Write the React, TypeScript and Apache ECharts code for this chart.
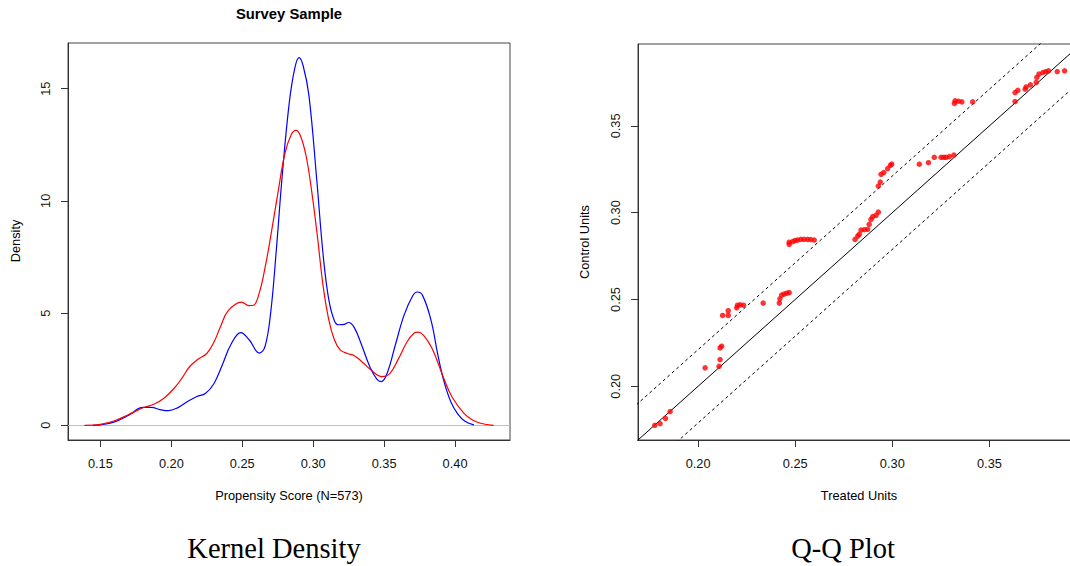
import { useEffect, useRef } from "react";
import * as echarts from "echarts";

// Kernel density curves: [propensity score, density]
const blueDensity: [number, number][] = [
  [0.1446, 0.0], [0.15, 0.02], [0.16, 0.15], [0.17, 0.45], [0.18, 0.8], [0.186, 0.8],
  [0.192, 0.7], [0.198, 0.65], [0.205, 0.8], [0.212, 1.08], [0.218, 1.28], [0.224, 1.42],
  [0.23, 1.85], [0.236, 2.7], [0.242, 3.6], [0.249, 4.13], [0.255, 3.8], [0.262, 3.22],
  [0.266, 3.5], [0.27, 5.0], [0.274, 7.8], [0.278, 11.0], [0.283, 14.3], [0.287, 15.9],
  [0.29, 16.38], [0.293, 16.0], [0.297, 14.7], [0.3025, 10.95], [0.307, 7.6], [0.311, 5.6],
  [0.315, 4.65], [0.318, 4.48], [0.322, 4.5], [0.325, 4.58], [0.329, 4.35], [0.334, 3.6],
  [0.34, 2.6], [0.345, 2.05], [0.348, 1.95], [0.352, 2.3], [0.358, 3.6], [0.364, 4.9],
  [0.37, 5.75], [0.3733, 5.94], [0.377, 5.8], [0.383, 4.7], [0.388, 3.1], [0.392, 2.0],
  [0.397, 1.05], [0.402, 0.5], [0.407, 0.18], [0.4133, 0.02],
];

const redDensity: [number, number][] = [
  [0.1387, 0.0], [0.15, 0.04], [0.16, 0.2], [0.17, 0.48], [0.18, 0.78], [0.188, 0.95],
  [0.195, 1.22], [0.202, 1.65], [0.208, 2.15], [0.213, 2.62], [0.219, 2.95], [0.225, 3.2],
  [0.23, 3.7], [0.235, 4.45], [0.24, 5.1], [0.2495, 5.49], [0.2545, 5.33], [0.258, 5.35],
  [0.262, 5.9], [0.266, 7.0], [0.27, 8.4], [0.275, 10.3], [0.28, 12.1], [0.2845, 12.95],
  [0.2879, 13.14], [0.291, 12.9], [0.295, 12.0], [0.299, 10.4], [0.303, 8.4], [0.307, 6.2],
  [0.311, 4.7], [0.315, 3.8], [0.319, 3.36], [0.324, 3.2], [0.329, 3.1], [0.335, 2.8],
  [0.341, 2.45], [0.3485, 2.17], [0.354, 2.3], [0.36, 2.95], [0.366, 3.7], [0.371, 4.1],
  [0.374, 4.15], [0.378, 4.0], [0.384, 3.4], [0.392, 2.1], [0.398, 1.25], [0.4063, 0.53],
  [0.412, 0.25], [0.418, 0.09], [0.4272, 0.0],
];

const densityTicksX = [0.15, 0.2, 0.25, 0.3, 0.35, 0.4];
const densityTicksY = [0, 5, 10, 15];

// Q-Q points: [treated quantile, control quantile]
const qqPoints: [number, number][] = [
  [0.1777, 0.1775], [0.1804, 0.1785], [0.1832, 0.1815], [0.1856, 0.1854],
  [0.2036, 0.2106], [0.2108, 0.2115], [0.2113, 0.2154], [0.2113, 0.2221], [0.2121, 0.2231],
  [0.2126, 0.2408], [0.2155, 0.2408], [0.2155, 0.2435], [0.2199, 0.2452], [0.2203, 0.2467],
  [0.2217, 0.2469], [0.2234, 0.2467],
  [0.2335, 0.2479], [0.2418, 0.2479], [0.2421, 0.2504], [0.243, 0.2525], [0.2443, 0.2531],
  [0.2457, 0.2536], [0.2469, 0.254],
  [0.2469, 0.2817], [0.2469, 0.283], [0.2487, 0.2833], [0.25, 0.284], [0.2512, 0.2842],
  [0.2529, 0.2846], [0.2546, 0.2846], [0.2564, 0.2846], [0.258, 0.2845], [0.2598, 0.2842],
  [0.2808, 0.2846], [0.2822, 0.2865], [0.283, 0.2875], [0.2839, 0.29], [0.2856, 0.2902],
  [0.2873, 0.2904], [0.2881, 0.2933], [0.289, 0.2961], [0.2899, 0.2977], [0.2916, 0.2984],
  [0.2928, 0.3003],
  [0.2928, 0.3153], [0.2938, 0.3176], [0.2942, 0.3221], [0.2956, 0.3231], [0.2976, 0.3254],
  [0.299, 0.3273], [0.2997, 0.328],
  [0.3139, 0.3279], [0.3186, 0.3288], [0.3216, 0.3319], [0.3251, 0.3319], [0.3265, 0.3319],
  [0.3277, 0.3319], [0.3294, 0.3323], [0.3317, 0.3332],
  [0.332, 0.3629], [0.3323, 0.3644], [0.334, 0.3642], [0.3358, 0.3638], [0.3414, 0.3638],
  [0.3632, 0.364], [0.3632, 0.3692], [0.3646, 0.3705], [0.3684, 0.3711], [0.3689, 0.3724],
  [0.3711, 0.3736], [0.3741, 0.375], [0.3744, 0.3779], [0.3755, 0.3798], [0.3775, 0.3807],
  [0.379, 0.3812], [0.3804, 0.3817], [0.3849, 0.3813], [0.3887, 0.3817],
];

const qqTicks = [0.2, 0.25, 0.3, 0.35];
// abline intercepts as fractions of the data range (y = x, y = x ± 10% range)
const qqAblineFractions = [0, 0.1, -0.1];

const SANS = "'Liberation Sans', Arial, Helvetica, sans-serif";
const SERIF = "'Liberation Serif', 'Times New Roman', serif";

function extendRange(lo: number, hi: number): [number, number] {
  const d = (hi - lo) * 0.04;
  return [lo - d, hi + d];
}

export default function App() {
  const ref = useRef<HTMLDivElement>(null);

  useEffect(() => {
    if (!ref.current) return;
    const prevOverflow = document.body.style.overflow;
    document.body.style.overflow = "hidden";
    const chart = echarts.init(ref.current, undefined, { renderer: "svg" });

    const allX = [...blueDensity, ...redDensity].map((p) => p[0]);
    const allY = [...blueDensity, ...redDensity].map((p) => p[1]);
    const [dxMin, dxMax] = extendRange(Math.min(...allX), Math.max(...allX));
    const [dyMin, dyMax] = extendRange(0, Math.max(...allY));

    const qqAll = qqPoints.flat();
    const qLo = Math.min(...qqAll);
    const qHi = Math.max(...qqAll);
    const [qMin, qMax] = extendRange(qLo, qHi);
    const qRange = qHi - qLo;

    const tickLabel = {
      color: "#111",
      fontSize: 12.8,
      fontFamily: SANS,
    };

    const baseAxis = (min: number, max: number, ticks: number[], fmt: (v: number) => string, isY: boolean, gridIndex: number) => ({
      type: "value" as const,
      gridIndex,
      min,
      max,
      splitLine: { show: false },
      axisLine: { show: true, onZero: false, lineStyle: { color: "#333", width: 1 } },
      axisTick: { show: true, inside: false, length: 7, customValues: ticks, lineStyle: { color: "#333", width: 1 } },
      axisLabel: {
        ...tickLabel,
        customValues: ticks,
        formatter: fmt,
        margin: isY ? 16 : 17,
        rotate: isY ? 90 : 0,
        showMinLabel: true,
        showMaxLabel: true,
      },
    });

    const fmt2 = (v: number) => v.toFixed(2);
    const fmt0 = (v: number) => String(Math.round(v));

    const ablineSeries = qqAblineFractions.map((f) => {
      const b = f * qRange;
      const x0 = qMin - 0.1;
      const x1 = qMax + 0.1;
      return {
        type: "line" as const,
        xAxisIndex: 1,
        yAxisIndex: 1,
        data: [
          [x0, x0 + b],
          [x1, x1 + b],
        ],
        symbol: "none",
        clip: true,
        silent: true,
        lineStyle: { color: "#000", width: 1, type: f === 0 ? ("solid" as const) : [3, 3] },
        z: 2,
      };
    });

    chart.setOption({
      animation: false,
      backgroundColor: "#fff",
      grid: [
        { left: 68, top: 43, width: 442, height: 397, show: true, borderColor: "#444", borderWidth: 1, backgroundColor: "transparent" },
        { left: 638, top: 44, width: 443, height: 396, show: true, borderColor: "#444", borderWidth: 1, backgroundColor: "transparent" },
      ],
      xAxis: [
        baseAxis(dxMin, dxMax, densityTicksX, fmt2, false, 0),
        baseAxis(qMin, qMax, qqTicks, fmt2, false, 1),
      ],
      yAxis: [
        baseAxis(dyMin, dyMax, densityTicksY, fmt0, true, 0),
        baseAxis(qMin, qMax, qqTicks, fmt2, true, 1),
      ],
      series: [
        {
          type: "line",
          xAxisIndex: 0,
          yAxisIndex: 0,
          data: blueDensity,
          symbol: "none",
          smooth: 0.4,
          lineStyle: { color: "#0000ff", width: 1.2 },
          z: 3,
          markLine: {
            silent: true,
            symbol: "none",
            label: { show: false },
            lineStyle: { color: "#bebebe", width: 1, type: "solid" },
            data: [{ yAxis: 0 }],
            z: 1,
          },
        },
        {
          type: "line",
          xAxisIndex: 0,
          yAxisIndex: 0,
          data: redDensity,
          symbol: "none",
          smooth: 0.4,
          lineStyle: { color: "#ff0000", width: 1.2 },
          z: 4,
        },
        ...ablineSeries,
        {
          type: "scatter",
          xAxisIndex: 1,
          yAxisIndex: 1,
          data: qqPoints,
          symbol: "circle",
          symbolSize: 5.5,
          itemStyle: { color: "#ff0000" },
          z: 5,
        },
      ],
      graphic: [
        { type: "text", x: 289, y: 14, style: { text: "Survey Sample", font: `bold 14.8px ${SANS}`, fill: "#000", align: "center", verticalAlign: "middle" } },
        { type: "text", x: 15, y: 241, rotation: Math.PI / 2, style: { text: "Density", font: `12.8px ${SANS}`, fill: "#000", align: "center", verticalAlign: "middle" } },
        { type: "text", x: 289, y: 495, style: { text: "Propensity Score (N=573)", font: `12.8px ${SANS}`, fill: "#000", align: "center", verticalAlign: "middle" } },
        { type: "text", x: 584, y: 242, rotation: Math.PI / 2, style: { text: "Control Units", font: `12.8px ${SANS}`, fill: "#000", align: "center", verticalAlign: "middle" } },
        { type: "text", x: 859, y: 495, style: { text: "Treated Units", font: `12.8px ${SANS}`, fill: "#000", align: "center", verticalAlign: "middle" } },
        { type: "text", x: 274, y: 548, style: { text: "Kernel Density", font: `28.5px ${SERIF}`, fill: "#000", align: "center", verticalAlign: "middle" } },
        { type: "text", x: 843, y: 548, style: { text: "Q-Q Plot", font: `28.5px ${SERIF}`, fill: "#000", align: "center", verticalAlign: "middle" } },
      ],
    });

    return () => {
      chart.dispose();
      document.body.style.overflow = prevOverflow;
    };
  }, []);

  return (
    <div
      ref={ref}
      style={{ position: "fixed", left: 0, top: 0, width: 1096, height: 566, background: "#fff" }}
    />
  );
}
